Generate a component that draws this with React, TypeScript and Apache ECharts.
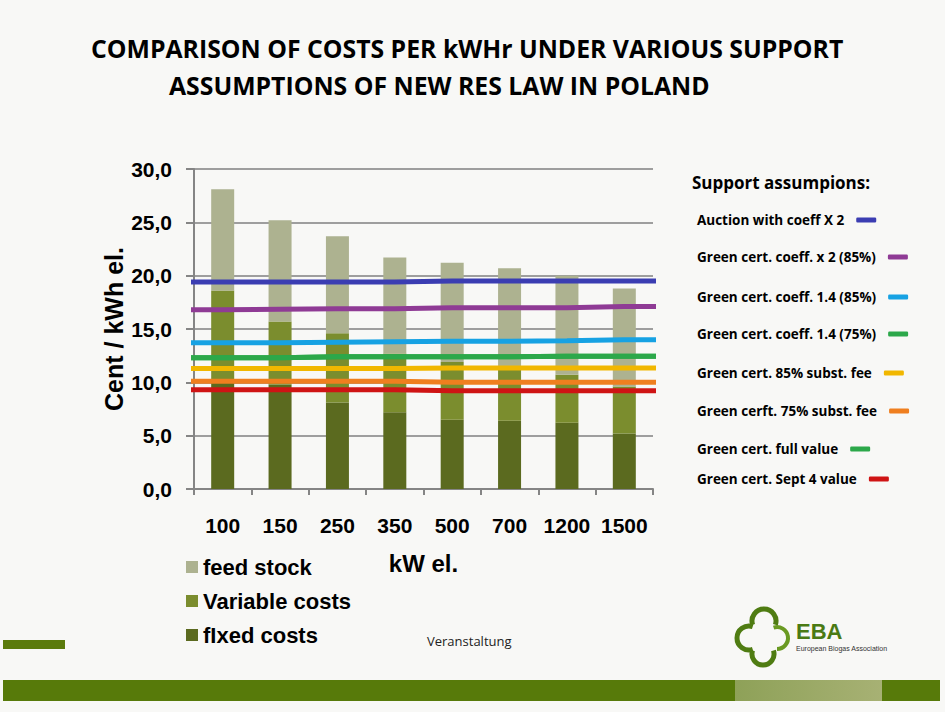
import * as echarts from "echarts";
import { useEffect, useRef } from "react";

// plant size, kW el.
const categories = ["100", "150", "250", "350", "500", "700", "1200", "1500"];

// cost components, Cent/kWh el. (stack segments, bottom to top)
const fixedCosts = [10.0, 9.8, 8.1, 7.2, 6.5, 6.4, 6.2, 5.2];
const variableCosts = [8.6, 5.9, 6.5, 5.5, 5.4, 4.9, 4.5, 4.4];
const feedStock = [9.5, 9.5, 9.1, 9.0, 9.3, 9.4, 9.3, 9.2];

// support levels read per category
const auctionX2 = [19.4, 19.4, 19.4, 19.4, 19.5, 19.5, 19.5, 19.5];
const gcCoeff2_85 = [16.8, 16.85, 16.9, 16.9, 17.0, 17.0, 17.0, 17.1];
const gcCoeff14_85 = [13.7, 13.7, 13.75, 13.8, 13.85, 13.85, 13.9, 14.0];
const gcCoeff14_75 = [12.3, 12.3, 12.4, 12.4, 12.4, 12.4, 12.45, 12.45];
const gc85Fee = [11.3, 11.3, 11.3, 11.3, 11.35, 11.35, 11.35, 11.35];
const gc75Fee = [10.1, 10.1, 10.1, 10.1, 10.0, 10.0, 10.0, 10.0];
const gcFullValue = [12.3, 12.3, 12.4, 12.4, 12.4, 12.4, 12.45, 12.45];
const gcSept4 = [9.3, 9.3, 9.3, 9.3, 9.2, 9.2, 9.2, 9.2];

const supportNames = [
  "Auction with coeff X 2",
  "Green cert. coeff. x 2 (85%)",
  "Green cert. coeff. 1.4 (85%)",
  "Green cert. coeff. 1.4 (75%)",
  "Green cert. 85% subst. fee",
  "Green cerft. 75% subst. fee",
  "Green cert. full value",
  "Green cert. Sept 4 value",
];
const supportValues = [
  auctionX2,
  gcCoeff2_85,
  gcCoeff14_85,
  gcCoeff14_75,
  gc85Fee,
  gc75Fee,
  gcFullValue,
  gcSept4,
];
const supportColors = [
  "#3b3db2",
  "#8f3b95",
  "#17a2e3",
  "#2ca84a",
  "#f1b700",
  "#ef7f1f",
  "#2ca84a",
  "#cf1414",
];
// vertical position of each legend row on the right
const supportLegendTops = [213, 250, 290, 327, 366, 404, 442, 472];

const costNames = ["feed stock", "Variable costs", "fIxed costs"];

// lines are drawn on a hidden 0..8 value axis so they can run past the bars
const toLine = (vals: number[]) => [
  [-0.08, vals[0]],
  ...vals.map((v, i) => [i + 0.5, v]),
  [8.36, vals[vals.length - 1]],
];

const App = () => {
  const chartRef = useRef<HTMLDivElement>(null);

  useEffect(() => {
    if (!chartRef.current) return;
    const chart = echarts.init(chartRef.current, null, { renderer: "svg" });

    const lineSeries = supportNames.map((name, i) => ({
      name,
      type: "line",
      xAxisIndex: 1,
      data: toLine(supportValues[i]),
      symbol: "none",
      clip: false,
      color: supportColors[i],
      lineStyle: { width: 5, color: supportColors[i], cap: "round" },
      z: 5,
    }));

    const supportLegends = supportNames.map((name, i) => ({
      data: [name],
      orient: "vertical",
      left: 697,
      top: supportLegendTops[i],
      padding: 0,
      align: "right",
      icon: "roundRect",
      itemWidth: 20,
      itemHeight: 5,
      selectedMode: false,
      formatter: (n: string) => n + "  ",
      textStyle: { fontFamily: "Open Sans", fontWeight: "bold", fontSize: 13.5, color: "#000" },
    }));

    const option = {
      animation: false,
      backgroundColor: "#f8f8f6",
      title: [
        {
          text: "COMPARISON OF COSTS PER kWHr UNDER VARIOUS SUPPORT",
          left: 86,
          top: 30,
          textStyle: { fontFamily: "Open Sans", fontWeight: "bold", fontSize: 24.8, color: "#000" },
        },
        {
          text: "ASSUMPTIONS OF NEW RES LAW IN POLAND",
          left: 164,
          top: 67,
          textStyle: { fontFamily: "Open Sans", fontWeight: "bold", fontSize: 24.8, color: "#000" },
        },
      ],
      legend: [
        ...supportLegends,
        {
          data: costNames,
          orient: "vertical",
          left: 181,
          top: 550,
          icon: "rect",
          itemWidth: 12,
          itemHeight: 12,
          itemGap: 10,
          selectedMode: false,
          textStyle: {
            fontFamily: "Liberation Sans",
            fontWeight: "bold",
            fontSize: 22,
            lineHeight: 24,
            color: "#000",
          },
        },
      ],
      grid: { left: 194, right: 292, top: 169, bottom: 223 },
      xAxis: [
        {
          type: "category",
          data: categories,
          name: "kW el.",
          nameLocation: "middle",
          nameGap: 62,
          nameTextStyle: { fontFamily: "Liberation Sans", fontWeight: "bold", fontSize: 24, color: "#000" },
          axisLine: { lineStyle: { color: "#858585", width: 2 } },
          axisTick: { show: true, length: 6, lineStyle: { color: "#858585", width: 2 } },
          axisLabel: {
            interval: 0,
            margin: 26,
            fontFamily: "Liberation Sans",
            fontWeight: "bold",
            fontSize: 21,
            color: "#000",
          },
        },
        { type: "value", min: 0, max: 8, show: false, splitLine: { show: false } },
      ],
      yAxis: {
        type: "value",
        min: 0,
        max: 30,
        interval: 5,
        name: "Cent / kWh el.",
        nameLocation: "middle",
        nameGap: 68,
        nameRotate: 90,
        nameTextStyle: { fontFamily: "Liberation Sans", fontWeight: "bold", fontSize: 25, color: "#000" },
        axisLine: { show: true, lineStyle: { color: "#858585", width: 2 } },
        axisTick: { show: true, length: 8, lineStyle: { color: "#858585", width: 2 } },
        splitLine: { lineStyle: { color: "#808080", width: 1.5 } },
        axisLabel: {
          margin: 22,
          fontFamily: "Liberation Sans",
          fontWeight: "bold",
          fontSize: 21,
          color: "#000",
          formatter: (v: number) => v.toFixed(1).replace(".", ","),
        },
      },
      series: [
        {
          name: "fIxed costs",
          type: "bar",
          stack: "cost",
          barWidth: 23,
          data: fixedCosts,
          itemStyle: { color: "#5b6a1f" },
        },
        {
          name: "Variable costs",
          type: "bar",
          stack: "cost",
          barWidth: 23,
          data: variableCosts,
          itemStyle: { color: "#7b8d2e" },
        },
        {
          name: "feed stock",
          type: "bar",
          stack: "cost",
          barWidth: 23,
          data: feedStock,
          itemStyle: { color: "#adb290" },
        },
        ...lineSeries,
      ],
      graphic: [
        {
          type: "text",
          left: 692,
          top: 174,
          style: { text: "Support assumpions:", font: 'bold 17px "Open Sans"', fill: "#000" },
        },
        {
          type: "text",
          left: 427,
          top: 634,
          style: { text: "Veranstaltung", font: '13px "Open Sans"', fill: "#222" },
        },
        { type: "rect", shape: { x: 3, y: 640, width: 62, height: 9 }, style: { fill: "#5b7b0c" } },
        { type: "rect", shape: { x: 3, y: 680, width: 937, height: 21 }, style: { fill: "#577a0a" } },
        {
          type: "rect",
          shape: { x: 735, y: 680, width: 147, height: 21 },
          style: {
            fill: new echarts.graphic.LinearGradient(0, 0, 1, 0, [
              { offset: 0, color: "#8ea158" },
              { offset: 1, color: "#a7b174" },
            ]),
          },
        },
        // EBA logo
        {
          type: "arc",
          shape: { cx: 764, cy: 621, r: 12, startAngle: Math.PI * 0.9, endAngle: Math.PI * 2.1 },
          style: { stroke: "#4f7c12", lineWidth: 5, fill: null },
        },
        {
          type: "arc",
          shape: { cx: 749, cy: 638, r: 12, startAngle: Math.PI * 0.4, endAngle: Math.PI * 1.6 },
          style: { stroke: "#4f7c12", lineWidth: 5, fill: null },
        },
        {
          type: "arc",
          shape: { cx: 777, cy: 638, r: 11, startAngle: -Math.PI * 0.6, endAngle: Math.PI * 0.5 },
          style: { stroke: "#6a9a22", lineWidth: 4, fill: null },
        },
        {
          type: "arc",
          shape: { cx: 763, cy: 654, r: 11, startAngle: -Math.PI * 0.1, endAngle: Math.PI * 1.1 },
          style: { stroke: "#4f7c12", lineWidth: 5, fill: null },
        },
        {
          type: "text",
          left: 796,
          top: 620,
          style: { text: "EBA", font: 'bold 22px "Liberation Sans"', fill: "#4a7a14" },
        },
        {
          type: "text",
          left: 796,
          top: 645,
          style: { text: "European Biogas Association", font: '7px "Liberation Sans"', fill: "#333" },
        },
      ],
    };

    chart.setOption(option as echarts.EChartsOption);

    return () => {
      chart.dispose();
    };
  }, []);

  return (
    <div
      ref={chartRef}
      style={{ position: "fixed", left: 0, top: 0, width: 945, height: 712 }}
    />
  );
};

export default App;
